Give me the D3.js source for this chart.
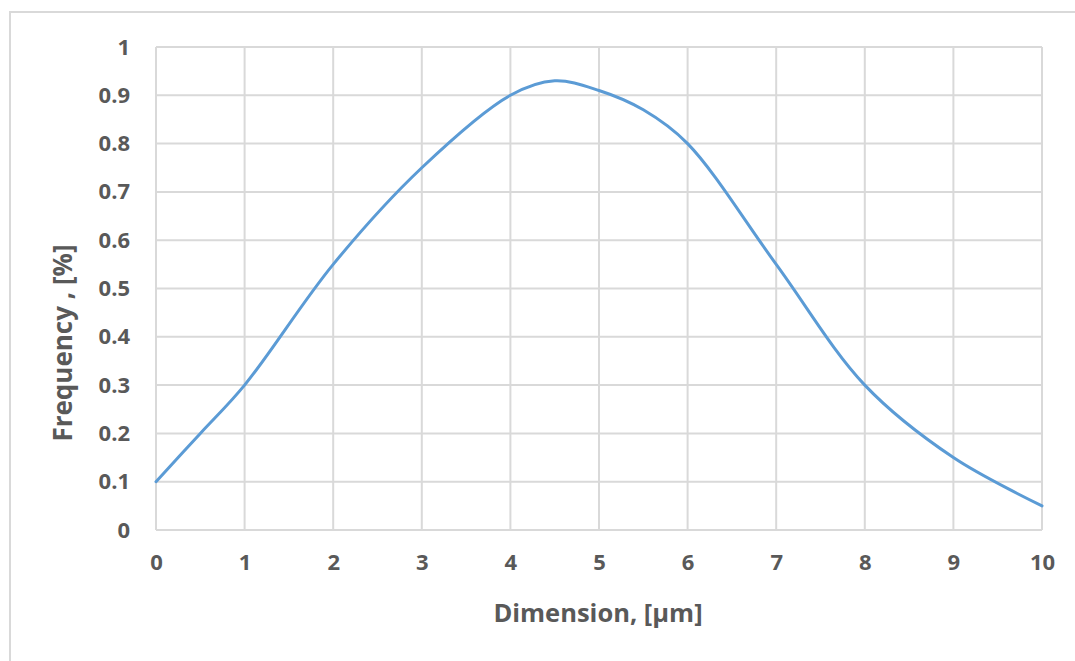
<!DOCTYPE html>
<html><head><meta charset="utf-8">
<script src="https://cdn.jsdelivr.net/npm/d3@7"></script>
<style>body{margin:0;background:#fff;}svg{display:block;}</style>
</head><body>
<svg id="c" width="1075" height="661"></svg>
<script>
const dimension = [0, 0.5, 1, 2, 3, 4, 4.5, 5, 5.5, 6, 7, 8, 9, 10];
const frequency = [0.1, 0.2, 0.3, 0.55, 0.75, 0.9, 0.93, 0.91, 0.87, 0.8, 0.55, 0.3, 0.15, 0.05];
const xTicks = [0,1,2,3,4,5,6,7,8,9,10];
const yTicks = [0,0.1,0.2,0.3,0.4,0.5,0.6,0.7,0.8,0.9,1];
const xTitle = "Dimension, [µm]";
const yTitle = "Frequency , [%]";

const svg = d3.select("#c");
const L=156, R=1042, T=47, B=530;
const x = d3.scaleLinear().domain([0,10]).range([L,R]);
const y = d3.scaleLinear().domain([0,1]).range([B,T]);
const grid="#d9d9d9", txt="#595959", font="'Open Sans', sans-serif";

svg.append("rect").attr("x",10).attr("y",12).attr("width",1100).attr("height",700)
  .attr("fill","none").attr("stroke",grid).attr("stroke-width",2);

svg.append("g").selectAll("line").data(xTicks).join("line")
  .attr("x1",d=>x(d)).attr("x2",d=>x(d)).attr("y1",T).attr("y2",B)
  .attr("stroke",grid).attr("stroke-width",2);
svg.append("g").selectAll("line").data(yTicks).join("line")
  .attr("x1",L).attr("x2",R).attr("y1",d=>y(d)).attr("y2",d=>y(d))
  .attr("stroke",grid).attr("stroke-width",2);

const xa = svg.append("g").attr("transform",`translate(0,${B})`)
  .call(d3.axisBottom(x).tickValues(xTicks).tickFormat(d3.format("d")).tickSize(0).tickPadding(27));
const ya = svg.append("g").attr("transform",`translate(${L},0)`)
  .call(d3.axisLeft(y).tickValues(yTicks).tickFormat(d=>d===0?"0":d===1?"1":d3.format(".1f")(d)).tickSize(0).tickPadding(26));
[xa,ya].forEach(a=>{a.select(".domain").remove();
  a.selectAll("text").attr("fill",txt).attr("font-family",font).attr("font-weight","bold").attr("font-size",22);});
xa.selectAll("text").attr("dy","0.71em").attr("y",24);

svg.append("path").datum(dimension.map((d,i)=>[d,frequency[i]]))
  .attr("fill","none").attr("stroke","#5b9bd5").attr("stroke-width",3).attr("stroke-linecap","round")
  .attr("d",d3.line().x(d=>x(d[0])).y(d=>y(d[1])).curve(d3.curveCatmullRom.alpha(0.5)));

svg.append("text").attr("x",598).attr("y",622).attr("text-anchor","middle")
  .attr("fill",txt).attr("font-family",font).attr("font-weight","bold").attr("font-size",25.5).text(xTitle);
svg.append("text").attr("transform",`translate(72,343) rotate(-90)`).attr("text-anchor","middle")
  .attr("fill",txt).attr("font-family",font).attr("font-weight","bold").attr("font-size",26).text(yTitle);
</script>
</body></html>
